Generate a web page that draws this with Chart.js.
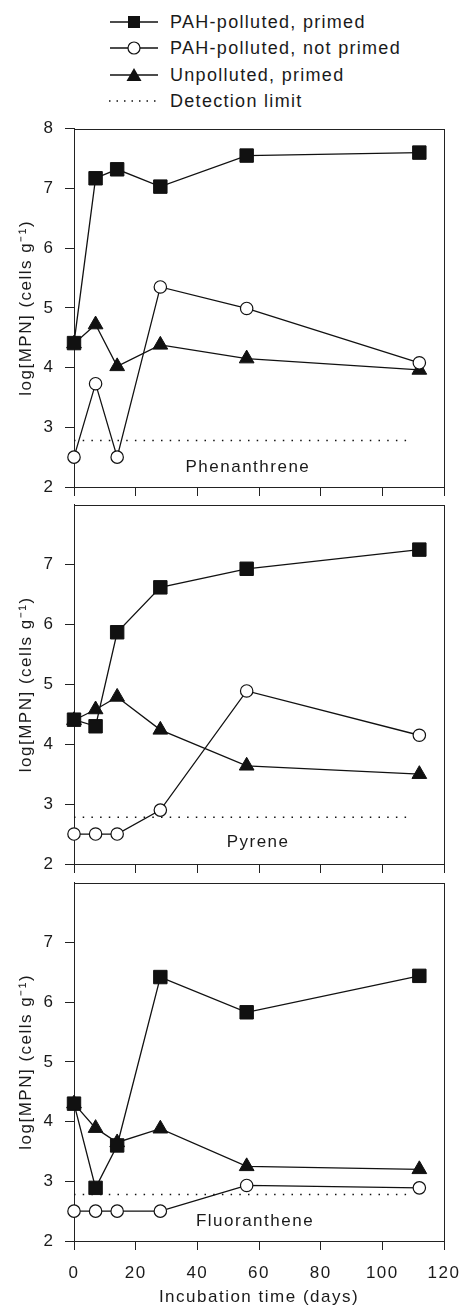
<!DOCTYPE html>
<html>
<head>
<meta charset="utf-8">
<script src="https://cdn.jsdelivr.net/npm/chart.js@4.4.1/dist/chart.umd.min.js"></script>
<style>
  html, body { margin: 0; padding: 0; background: #fff; }
  #page { position: relative; width: 461px; height: 1306px; overflow: hidden;
          font-family: "Liberation Sans", Arial, sans-serif; color: #1a1a1a; }
  .panel { position: absolute; left: 0; }
  .legend-row { position: absolute; left: 108px; height: 26px; line-height: 26px;
                font-size: 18px; letter-spacing: 1.3px; white-space: nowrap; }
  .legend-row svg { position: absolute; left: 0; top: 0; }
  .legend-row span { position: absolute; left: 62px; top: 0; }
</style>
</head>
<body>
<div id="page">
  <div class="legend-row" style="top:9px">
    <svg width="52" height="26"><line x1="2" y1="13" x2="50" y2="13" stroke="#111" stroke-width="1.3"/><rect x="20" y="7" width="12" height="12" fill="#111"/></svg>
    <span>PAH-polluted, primed</span>
  </div>
  <div class="legend-row" style="top:35px">
    <svg width="52" height="26"><line x1="2" y1="13" x2="50" y2="13" stroke="#111" stroke-width="1.3"/><circle cx="26" cy="13" r="6" fill="#fff" stroke="#111" stroke-width="1.2"/></svg>
    <span>PAH-polluted, not primed</span>
  </div>
  <div class="legend-row" style="top:62px">
    <svg width="52" height="26"><line x1="2" y1="13" x2="50" y2="13" stroke="#111" stroke-width="1.3"/><polygon points="26,6 33.5,19 18.5,19" fill="#111"/></svg>
    <span>Unpolluted, primed</span>
  </div>
  <div class="legend-row" style="top:88px">
    <svg width="52" height="26"><line x1="1" y1="13" x2="50" y2="13" stroke="#111" stroke-width="1.5" stroke-dasharray="1.5 6"/></svg>
    <span>Detection limit</span>
  </div>

  <canvas id="phen" class="panel" style="top:108px" width="461" height="402"></canvas>
  <canvas id="pyr" class="panel" style="top:484px" width="461" height="402"></canvas>
  <canvas id="flu" class="panel" style="top:862px" width="461" height="444"></canvas>
</div>

<script>
const days = [0, 7, 14, 28, 56, 112];
const seriesNames = ["PAH-polluted, primed", "PAH-polluted, not primed", "Unpolluted, primed", "Detection limit"];
const panelNames = ["Phenanthrene", "Pyrene", "Fluoranthene"];

const phenPrimed = [4.41, 7.17, 7.32, 7.03, 7.55, 7.60];
const phenNotPrimed = [2.50, 3.73, 2.50, 5.35, 4.99, 4.08];
const phenUnpolluted = [4.40, 4.72, 4.02, 4.38, 4.15, 3.96];

const pyrPrimed = [4.41, 4.30, 5.87, 6.62, 6.93, 7.25];
const pyrNotPrimed = [2.50, 2.50, 2.50, 2.90, 4.89, 4.15];
const pyrUnpolluted = [4.40, 4.58, 4.79, 4.24, 3.64, 3.50];

const fluPrimed = [4.30, 2.89, 3.60, 6.42, 5.83, 6.44];
const fluNotPrimed = [2.50, 2.50, 2.50, 2.50, 2.93, 2.89];
const fluUnpolluted = [4.30, 3.89, 3.65, 3.88, 3.25, 3.20];

const detectionLimit = 2.78;
const detectionDays = [0, 110];

const FONT = '"Liberation Sans", Arial, sans-serif';
const INK = "#1a1a1a";
const LINE = "#111";

const toPoints = (vals) => days.map((d, i) => ({ x: d, y: vals[i] }));

// frame round the plot area + the compound name inside it
const panelPlugin = {
  id: "panel",
  beforeDraw(chart) {
    chart.ctx.letterSpacing = "1.5px";
  },
  beforeDatasetsDraw(chart) {
    const { ctx, chartArea: a } = chart;
    ctx.save();
    ctx.strokeStyle = "#222";
    ctx.lineWidth = 1;
    ctx.strokeRect(Math.round(a.left) + 0.5, Math.round(a.top) + 0.5,
      Math.round(a.right - a.left), Math.round(a.bottom - a.top));
    ctx.restore();
  },
  afterDatasetsDraw(chart, args, opts) {
    const { ctx, scales } = chart;
    ctx.save();
    ctx.font = "17px " + FONT;
    ctx.fillStyle = INK;
    ctx.textAlign = "center";
    ctx.textBaseline = "middle";
    ctx.fillText(opts.text, scales.x.getPixelForValue(opts.x), scales.y.getPixelForValue(opts.y));
    ctx.restore();
  },
};

function makeChart(id, primed, notPrimed, unpolluted, cfg) {
  return new Chart(document.getElementById(id), {
    type: "line",
    data: {
      datasets: [
        {
          label: seriesNames[0],
          data: toPoints(primed),
          borderColor: LINE,
          backgroundColor: LINE,
          borderWidth: 1.3,
          pointStyle: "rect",
          pointRadius: 9.5,
          pointBorderWidth: 1,
          clip: false,
        },
        {
          label: seriesNames[1],
          data: toPoints(notPrimed),
          borderColor: LINE,
          backgroundColor: "#fff",
          borderWidth: 1.3,
          pointStyle: "circle",
          pointRadius: 6.2,
          pointBorderWidth: 1.2,
          clip: false,
        },
        {
          label: seriesNames[2],
          data: toPoints(unpolluted),
          borderColor: LINE,
          backgroundColor: LINE,
          borderWidth: 1.3,
          pointStyle: "triangle",
          pointRadius: 8.5,
          pointBorderWidth: 1,
          clip: false,
        },
        {
          label: seriesNames[3],
          data: detectionDays.map((d) => ({ x: d, y: detectionLimit })),
          borderColor: LINE,
          borderWidth: 1.5,
          borderDash: [1.5, 7.2],
          pointRadius: 0,
        },
      ],
    },
    options: {
      responsive: false,
      animation: false,
      events: [],
      layout: { padding: { top: 12, right: 17, left: 0, bottom: 0 } },
      plugins: {
        legend: { display: false },
        tooltip: { enabled: false },
        panel: { text: cfg.name, x: cfg.labelX, y: cfg.labelY },
      },
      scales: {
        x: {
          type: "linear",
          min: 0,
          max: 120,
          ticks: {
            stepSize: 20,
            display: cfg.bottom,
            color: INK,
            font: { family: FONT, size: 17 },
            padding: 13,
            maxRotation: 0,
          },
          grid: { drawOnChartArea: false, drawTicks: true, tickLength: 9, color: "#222" },
          border: { color: "#222" },
          title: {
            display: cfg.bottom,
            text: "Incubation time (days)",
            color: INK,
            font: { family: FONT, size: 17, lineHeight: 1 },
            padding: { top: 0, bottom: 0 },
          },
          afterFit(s) {
            s.height = cfg.xHeight;
            s.paddingLeft = 0;
            s.paddingRight = 0;
          },
        },
        y: {
          min: 2,
          max: 8,
          ticks: {
            stepSize: 1,
            color: INK,
            font: { family: FONT, size: 17 },
            padding: 10.5,
          },
          afterBuildTicks(s) {
            if (!cfg.top) s.ticks = s.ticks.filter((t) => t.value < 8);
          },
          grid: { drawOnChartArea: false, drawTicks: true, tickLength: 9, color: "#222" },
          border: { color: "#222" },
          title: {
            display: true,
            text: "log[MPN] (cells g\u207B\u00B9)",
            color: INK,
            font: { family: FONT, size: 17 },
            padding: { top: 16.5, bottom: 0 },
          },
          afterFit(s) { s.width = 74; },
        },
      },
    },
    plugins: [panelPlugin],
  });
}

makeChart("phen", phenPrimed, phenNotPrimed, phenUnpolluted,
  { name: panelNames[0], labelX: 56.4, labelY: 2.33, top: true, bottom: false, xHeight: 23 });
makeChart("pyr", pyrPrimed, pyrNotPrimed, pyrUnpolluted,
  { name: panelNames[1], labelX: 59.7, labelY: 2.36, top: false, bottom: false, xHeight: 22 });
makeChart("flu", fluPrimed, fluNotPrimed, fluUnpolluted,
  { name: panelNames[2], labelX: 58.7, labelY: 2.33, top: false, bottom: true, xHeight: 65 });
</script>
</body>
</html>
